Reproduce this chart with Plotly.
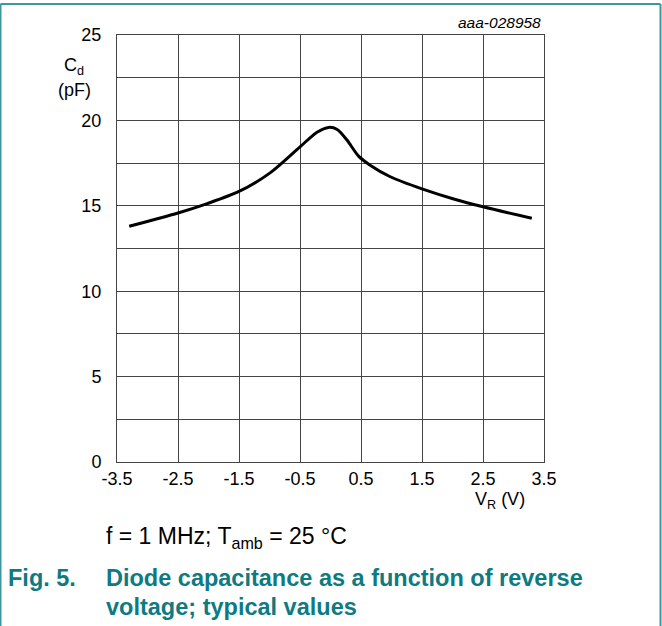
import plotly.graph_objects as go

# Data
vr = [-3.30, -2.50, -2.02, -1.50, -0.99, -0.50, -0.22, -0.03, 0.11, 0.27, 0.46, 0.65, 0.98, 1.50, 2.02, 2.50, 3.30]
cd = [13.80, 14.58, 15.13, 15.84, 16.93, 18.45, 19.31, 19.59, 19.47, 18.85, 17.91, 17.38, 16.70, 15.99, 15.40, 14.94, 14.27]

x_ticks = [-3.5, -2.5, -1.5, -0.5, 0.5, 1.5, 2.5, 3.5]
x_labels = ["-3.5", "-2.5", "-1.5", "-0.5", "0.5", "1.5", "2.5", "3.5"]
y_ticks = [0, 5, 10, 15, 20, 25]

TEAL = "#0E7A82"
FRAME = "#3E979E"
GRID = "#444444"
FONT = "Liberation Sans, Arial, sans-serif"

W, H = 662, 626
L, R, T, B = 117, 118, 35, 164
pw, ph = W - L - R, H - T - B


def px_x(x):
    return (x - L) / pw


def px_y(y):
    return (H - B - y) / ph


fig = go.Figure()
fig.add_trace(go.Scatter(x=vr, y=cd, mode="lines",
                         line=dict(color="black", width=3, shape="spline", smoothing=0.8),
                         hoverinfo="skip", showlegend=False))

fig.update_layout(
    width=W, height=H,
    margin=dict(l=L, r=R, t=T, b=B),
    paper_bgcolor="white", plot_bgcolor="white",
    font=dict(family=FONT, size=18, color="black"),
    xaxis=dict(range=[-3.5, 3.5], tickvals=x_ticks, ticktext=x_labels,
               showgrid=True, gridcolor=GRID, gridwidth=1,
               showline=True, linecolor=GRID, linewidth=1, mirror=True,
               zeroline=False, ticks="", ticklabelstandoff=0,
               tickfont=dict(size=18, family=FONT, color="black")),
    yaxis=dict(range=[0, 25], tickvals=y_ticks,
               showgrid=True, gridcolor=GRID, gridwidth=1,
               minor=dict(dtick=2.5, showgrid=True, gridcolor=GRID, gridwidth=1),
               showline=True, linecolor=GRID, linewidth=1, mirror=True,
               zeroline=False, ticks="", ticklabelstandoff=11,
               tickfont=dict(size=18, family=FONT, color="black")),
)

texts = [
    ("C<sub>d</sub>", 74, 67, "center", dict(size=18, color="black", family=FONT)),
    ("(pF)", 74, 90, "center", dict(size=18, color="black", family=FONT)),
    ("V<sub>R</sub> (V)", 500, 500, "center", dict(size=18, color="black", family=FONT)),
    ("<i>aaa-028958</i>", 543, 23, "right", dict(size=15.5, color="black", family=FONT)),
    ("f = 1 MHz; T<sub>amb</sub> = 25 °C", 104, 537, "left", dict(size=23, color="black", family=FONT)),
    ("<b>Fig. 5.</b>", 6, 578, "left", dict(size=23.5, color=TEAL, family=FONT)),
    ("<b>Diode capacitance as a function of reverse</b>", 104, 578, "left", dict(size=23.5, color=TEAL, family=FONT)),
    ("<b>voltage; typical values</b>", 104, 607, "left", dict(size=23.5, color=TEAL, family=FONT)),
]
for txt, x, y, anchor, font in texts:
    fig.add_annotation(text=txt, x=px_x(x), y=px_y(y), xref="paper", yref="paper",
                       xanchor=anchor, yanchor="middle", showarrow=False, font=font)

# Teal frame: top, left and right edges (no bottom edge)
frame = [((0.5, 4), (660.5, 4)), ((0.5, 4), (0.5, H)), ((660.5, 4), (660.5, H))]
for (x0, y0), (x1, y1) in frame:
    fig.add_shape(type="line", xref="paper", yref="paper",
                  x0=px_x(x0), x1=px_x(x1), y0=px_y(y0), y1=px_y(y1),
                  line=dict(color=FRAME, width=2), layer="above")

fig.write_html("out.html", config={"displayModeBar": False},
               post_script="document.body.style.margin='0px';")
